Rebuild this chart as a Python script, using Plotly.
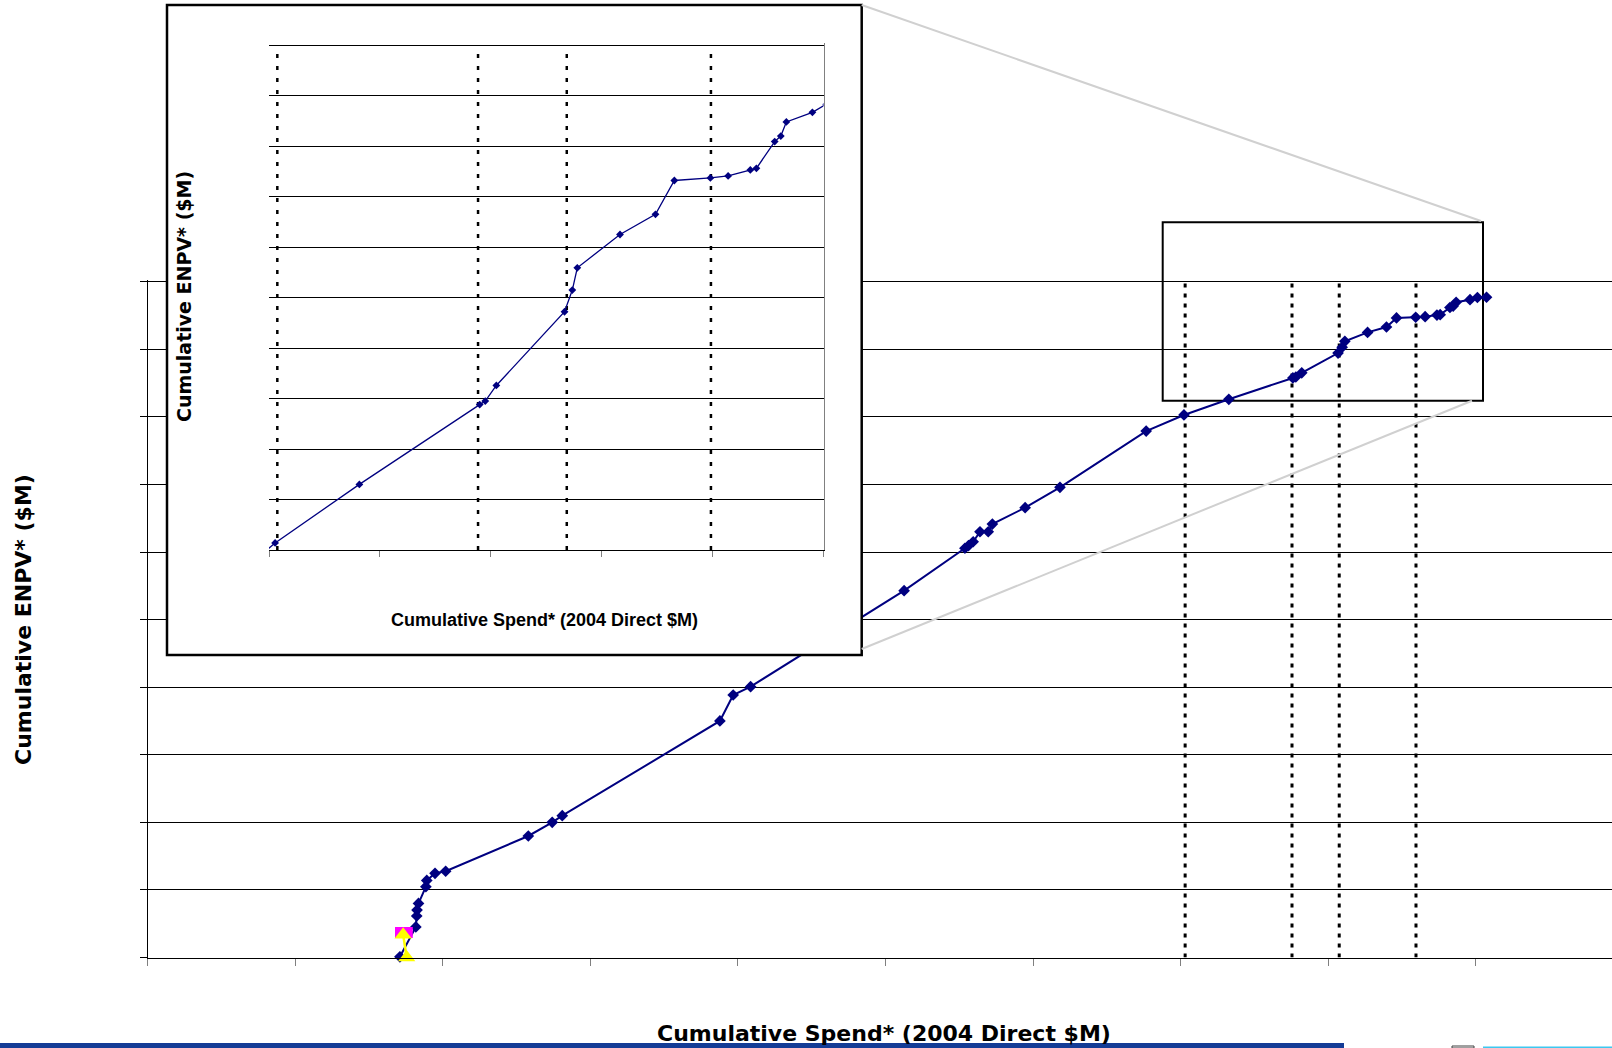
import plotly.graph_objects as go

# ---- data ($M) ----
spend_m = [855, 909, 912, 913, 918, 943, 946, 974, 1010, 1290, 1371, 1405,
           1939, 1984, 2043, 2563, 2769, 2781, 2797, 2820, 2848, 2862, 2973,
           3091, 3383, 3511, 3663, 3880, 3890, 3910, 4033, 4047, 4056, 4133,
           4197, 4231, 4296, 4328, 4368, 4379, 4412, 4423, 4433, 4480, 4505, 4536]
enpv_m = [5, 226, 307, 351, 400, 524, 570, 623, 638, 899, 1000, 1049,
          1750, 1942, 2004, 2714, 3028, 3047, 3076, 3150, 3150, 3207, 3328,
          3479, 3895, 4014, 4130, 4288, 4295, 4326, 4472, 4515, 4559, 4625,
          4665, 4732, 4737, 4741, 4753, 4756, 4809, 4820, 4848, 4867, 4883, 4885]

yellow_spend = [866, 878]
yellow_enpv = [169, 0]
magenta_spend = [857, 880]
magenta_enpv = [185, 185]

milestones_m = [3515, 3877, 4037, 4297]

W, H = 1612, 1048


def px(x):
    return x / W


def py(y):
    return 1 - y / H


NAVY = "#000080"
FONT = "DejaVu Sans"

fig = go.Figure()

# ---- main chart (xy) ----
for m in milestones_m:
    fig.add_trace(go.Scatter(x=[m, m], y=[0, 5000], mode="lines",
                             line=dict(color="black", width=3, dash="4px,6px"),
                             xaxis="x", yaxis="y", hoverinfo="skip", showlegend=False))

fig.add_trace(go.Scatter(x=spend_m, y=enpv_m, mode="lines+markers",
                         line=dict(color=NAVY, width=2),
                         marker=dict(symbol="diamond", size=9, color=NAVY),
                         cliponaxis=False, xaxis="x", yaxis="y", showlegend=False))
fig.add_trace(go.Scatter(x=magenta_spend, y=magenta_enpv, mode="markers",
                         marker=dict(symbol="square", size=11, color="#ff00ff"),
                         cliponaxis=False, xaxis="x", yaxis="y", showlegend=False))
fig.add_trace(go.Scatter(x=yellow_spend, y=yellow_enpv, mode="lines+markers",
                         line=dict(color="#ffff00", width=2.5),
                         marker=dict(symbol="triangle-up", size=15, color="#ffff00"),
                         cliponaxis=False, xaxis="x", yaxis="y", showlegend=False))

# ---- inset backing panel (x2y2) ----
fig.add_trace(go.Scatter(x=[0, 1, 1, 0, 0], y=[0, 0, 1, 1, 0], mode="lines",
                         fill="toself", fillcolor="white", line=dict(width=0, color="white"),
                         xaxis="x2", yaxis="y2", hoverinfo="skip", showlegend=False))

# ---- inset (x3y3) ----
for m in milestones_m:
    fig.add_trace(go.Scatter(x=[m, m], y=[4000, 5000], mode="lines",
                             line=dict(color="black", width=2.5, dash="4px,8px"),
                             xaxis="x3", yaxis="y3", hoverinfo="skip", showlegend=False))
fig.add_trace(go.Scatter(x=spend_m, y=enpv_m, mode="lines+markers",
                         line=dict(color=NAVY, width=1.3),
                         marker=dict(symbol="diamond", size=6, color=NAVY),
                         xaxis="x3", yaxis="y3", showlegend=False))

# plot-area geometry (pixels); the y ranges run a little past the top
# grid value so that the top gridline is still drawn
main_l, main_t, main_b = 147.5, 281.7, 957.5
main_pad = 2.0
main_ytop = 5000 + main_pad / ((main_b - main_t) / 5000)
inset = dict(l=269, r=823.5, t=45.2, b=550)
inset_pad = 2.0
inset_ytop = 5000 + inset_pad / ((inset["b"] - inset["t"]) / 1000)
box = dict(l=167, r=861.7, t=5, b=655)

fig.update_layout(
    width=W, height=H,
    margin=dict(l=0, r=0, t=0, b=0),
    paper_bgcolor="white", plot_bgcolor="white",
    xaxis=dict(domain=[px(main_l), 1], range=[0, 4961], tick0=0, dtick=500,
               showgrid=False, zeroline=False, showline=True, linecolor="black",
               linewidth=1, ticks="outside", ticklen=7, tickcolor="#808080",
               showticklabels=False),
    yaxis=dict(domain=[py(main_b), py(main_t - main_pad)], range=[0, main_ytop],
               tick0=0, dtick=500,
               showgrid=True, gridcolor="black", gridwidth=1, zeroline=False,
               showline=True, linecolor="black", linewidth=1, ticks="outside",
               ticklen=7, tickcolor="black", showticklabels=False),
    xaxis2=dict(domain=[px(box["l"]), px(box["r"])], range=[0, 1], visible=False,
                anchor="y2"),
    yaxis2=dict(domain=[py(box["b"]), py(box["t"])], range=[0, 1], visible=False,
                anchor="x2"),
    xaxis3=dict(domain=[px(inset["l"]), px(inset["r"])], range=[3500, 4500],
                tick0=3500, dtick=200, showgrid=False, zeroline=False, showline=True,
                linecolor="black", linewidth=1, ticks="outside", ticklen=6,
                tickcolor="#808080", showticklabels=False, anchor="y3"),
    yaxis3=dict(domain=[py(inset["b"]), py(inset["t"] - inset_pad)],
                range=[4000, inset_ytop],
                tick0=4000, dtick=100, showgrid=True, gridcolor="black", gridwidth=1,
                zeroline=False, showline=True, side="right", linecolor="#808080",
                linewidth=1, ticks="", showticklabels=False, anchor="x3"),
    showlegend=False,
)

shapes = [
    # zoom region on the main chart
    dict(type="rect", xref="paper", yref="paper", layer="below",
         x0=px(1162.7), x1=px(1483), y0=py(400.7), y1=py(222.3),
         line=dict(color="black", width=2)),
    # inset frame
    dict(type="rect", xref="paper", yref="paper", layer="above",
         x0=px(box["l"]), x1=px(box["r"]), y0=py(box["b"]), y1=py(box["t"]),
         line=dict(color="black", width=2.5)),
    # connectors
    dict(type="line", xref="paper", yref="paper", layer="above",
         x0=px(861.7), y0=py(5), x1=px(1481), y1=py(221),
         line=dict(color="#d0d0d0", width=2)),
    dict(type="line", xref="paper", yref="paper", layer="above",
         x0=px(861.7), y0=py(649), x1=px(1472), y1=py(400.7),
         line=dict(color="#d0d0d0", width=2)),
    # footer band
    dict(type="rect", xref="paper", yref="paper", layer="above",
         x0=0, x1=px(1344), y0=0, y1=py(1043), line=dict(width=0),
         fillcolor="#143c96"),
    dict(type="rect", xref="paper", yref="paper", layer="above",
         x0=px(1452), x1=px(1474), y0=0, y1=py(1046), line=dict(width=1, color="#404040"),
         fillcolor="white"),
    dict(type="rect", xref="paper", yref="paper", layer="above",
         x0=px(1483), x1=1, y0=0, y1=py(1046.5), line=dict(width=0),
         fillcolor="#3cc8f0"),
]
fig.update_layout(shapes=shapes)

annotations = [
    dict(text="<b>Cumulative ENPV* ($M)</b>", x=px(23), y=py(620), textangle=-90,
         font=dict(family=FONT, size=22, color="black")),
    dict(text="<b>Cumulative Spend* (2004 Direct $M)</b>", x=px(884), y=py(1033),
         font=dict(family=FONT, size=22, color="black")),
    dict(text="<b>Cumulative ENPV* ($M)</b>", x=px(184), y=py(297), textangle=-90,
         font=dict(family=FONT, size=19, color="black")),
    dict(text="<b>Cumulative Spend* (2004 Direct $M)</b>", x=px(544), y=py(620),
         font=dict(family="Liberation Sans, Arial", size=18, color="black")),
]
for a in annotations:
    a.update(xref="paper", yref="paper", showarrow=False, xanchor="center", yanchor="middle")
fig.update_layout(annotations=annotations)

fig.write_html("out.html")
